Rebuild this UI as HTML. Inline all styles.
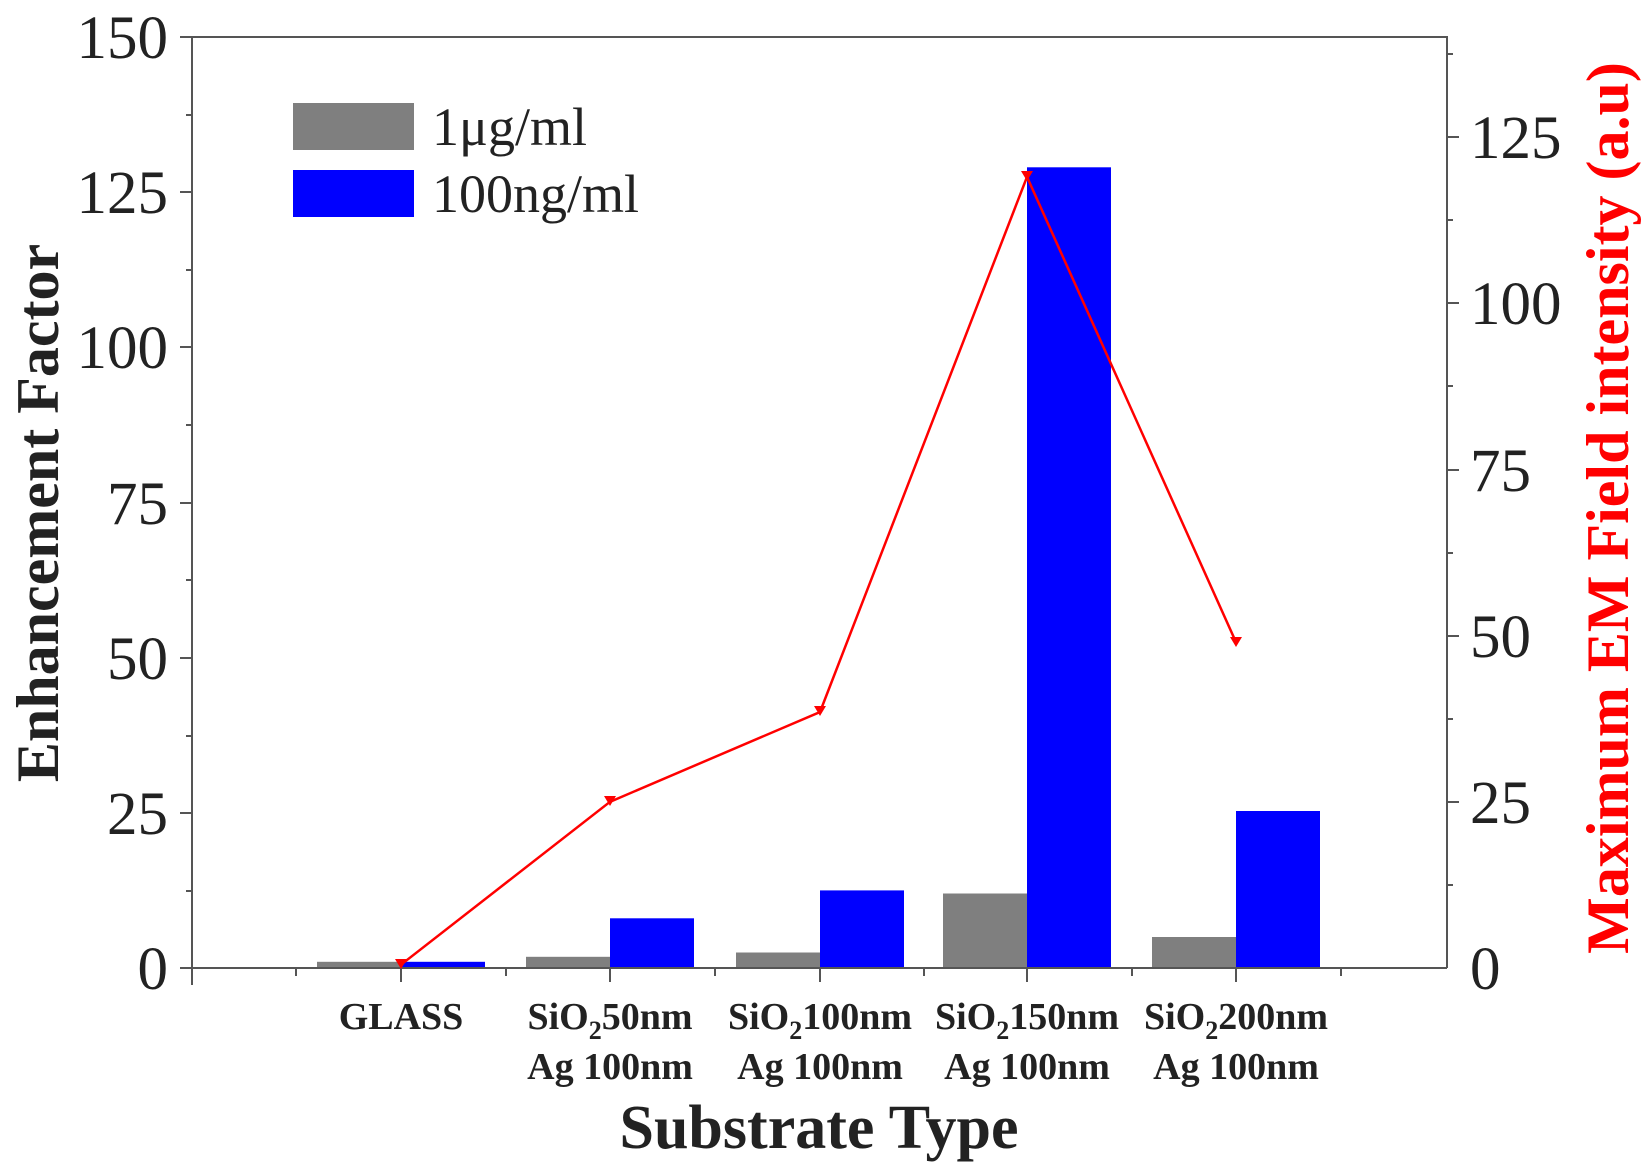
<!DOCTYPE html>
<html><head><meta charset="utf-8"><style>body{margin:0;background:#fff}</style></head><body>
<svg width="1642" height="1170" viewBox="0 0 1642 1170" xmlns="http://www.w3.org/2000/svg" font-family="Liberation Serif, serif">
<rect width="1642" height="1170" fill="#fff"/>
<g fill="#7f7f7f">
<rect x="317" y="961.8" width="84" height="6.2"/>
<rect x="526" y="956.8" width="84" height="11.2"/>
<rect x="736" y="952.5" width="84" height="15.5"/>
<rect x="943" y="893.5" width="84" height="74.5"/>
<rect x="1152" y="937" width="84" height="31"/>
</g>
<g fill="#0000ff">
<rect x="401" y="961.8" width="84" height="6.2"/>
<rect x="610" y="918.3" width="84" height="49.7"/>
<rect x="820" y="890.4" width="84" height="77.6"/>
<rect x="1027" y="167.3" width="84" height="800.7"/>
<rect x="1236" y="811" width="84" height="157"/>
</g>
<g stroke="#555" stroke-width="2" fill="none">
<path d="M192 37 H1447 V968"/>
<path d="M192 37 V985"/>
<path d="M180 968 H1447"/>
<path d="M180 37H192M180 192H192M180 347H192M180 503H192M180 658H192M180 813H192M186 115H192M186 270H192M186 425H192M186 580H192M186 736H192M186 891H192"/>
<path d="M1447 137H1459M1447 303H1459M1447 470H1459M1447 636H1459M1447 802H1459M1447 54H1453M1447 220H1453M1447 386H1453M1447 553H1453M1447 719H1453M1447 885H1453"/>
<path d="M401 968V982M610 968V982M820 968V982M1027 968V982M1236 968V982M296 968V976M506 968V976M715 968V976M924 968V976M1132 968V976M1341 968V976"/>
</g>
<polyline fill="none" stroke="#ff0000" stroke-width="2.5" points="401,964.7 610,801.8 820,712 1027,176.9 1236,642.2"/>
<g fill="#ff0000">
<path d="M395 959h12l-6 10z"/><path d="M604 796h12l-6 10z"/><path d="M814 706h12l-6 10z"/><path d="M1021 171h12l-6 10z"/><path d="M1230 637h12l-6 10z"/>
</g>
<g font-size="61" fill="#222" text-anchor="end">
<text x="168" y="58">150</text><text x="168" y="213">125</text><text x="168" y="368">100</text>
<text x="168" y="524">75</text><text x="168" y="679">50</text><text x="168" y="834">25</text><text x="168" y="989">0</text>
</g>
<g font-size="61" fill="#222">
<text x="1470" y="158">125</text><text x="1470" y="324">100</text><text x="1470" y="491">75</text>
<text x="1470" y="657">50</text><text x="1470" y="823">25</text><text x="1470" y="989">0</text>
</g>
<g font-size="38" font-weight="bold" fill="#222" text-anchor="middle">
<text x="401" y="1029">GLASS</text>
<text x="610" y="1029">SiO<tspan font-size="26" dy="10">2</tspan><tspan dy="-10">50nm</tspan></text>
<text x="610" y="1079">Ag 100nm</text>
<text x="820" y="1029">SiO<tspan font-size="26" dy="10">2</tspan><tspan dy="-10">100nm</tspan></text>
<text x="820" y="1079">Ag 100nm</text>
<text x="1027" y="1029">SiO<tspan font-size="26" dy="10">2</tspan><tspan dy="-10">150nm</tspan></text>
<text x="1027" y="1079">Ag 100nm</text>
<text x="1236" y="1029">SiO<tspan font-size="26" dy="10">2</tspan><tspan dy="-10">200nm</tspan></text>
<text x="1236" y="1079">Ag 100nm</text>
</g>
<text x="819" y="1148" font-size="62" font-weight="bold" text-anchor="middle" fill="#222">Substrate Type</text>
<text transform="translate(58,513) rotate(-90)" font-size="60" font-weight="bold" text-anchor="middle" fill="#222">Enhancement Factor</text>
<text transform="translate(1628,508) rotate(-90)" font-size="60" font-weight="bold" text-anchor="middle" fill="#ff0000">Maximum EM Field intensity (a.u)</text>
<rect x="293" y="103" width="121" height="47" fill="#7f7f7f"/>
<rect x="293" y="170" width="121" height="47" fill="#0000ff"/>
<text x="432" y="145" font-size="54" fill="#222">1μg/ml</text>
<text x="432" y="212" font-size="54" fill="#222">100ng/ml</text>
</svg>
</body></html>
